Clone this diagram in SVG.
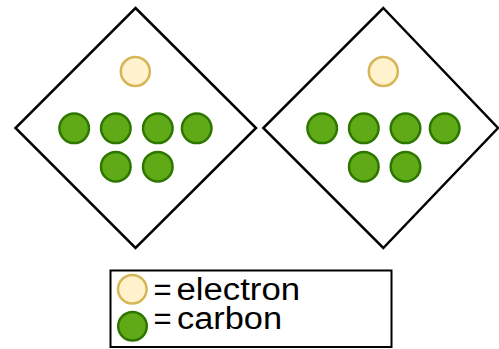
<svg xmlns="http://www.w3.org/2000/svg" width="499" height="349" viewBox="0 0 499 349">
<style>
.dia{fill:#ffffff;stroke:#000000;stroke-width:2.5}
.el{fill:#fff2cc;stroke:#d6b656;stroke-width:2.5}
.c{fill:#60a917;stroke:#2d7600;stroke-width:2.5}
.t{font-family:"Liberation Sans",Arial,sans-serif;font-size:31px;fill:#000000}
</style>
<rect width="499" height="349" fill="#ffffff"/>
<g id="molecule-left">
<polygon class="dia" points="135.5,8 256,128 135.5,248 15.5,128"/>
<circle class="el" cx="135.3" cy="71.5" r="14.5"/>
<circle class="c" cx="74.2" cy="128.3" r="14.8"/>
<circle class="c" cx="115.8" cy="128.3" r="14.8"/>
<circle class="c" cx="157.8" cy="128.3" r="14.8"/>
<circle class="c" cx="196.7" cy="128.3" r="14.8"/>
<circle class="c" cx="115.8" cy="166.7" r="14.8"/>
<circle class="c" cx="157.8" cy="166.7" r="14.8"/>
</g>
<g id="molecule-right">
<polygon class="dia" points="383.3,8 498,128 383.3,248 263.3,128"/>
<circle class="el" cx="383.3" cy="71.5" r="14.5"/>
<circle class="c" cx="322.2" cy="128.3" r="14.8"/>
<circle class="c" cx="363.8" cy="128.3" r="14.8"/>
<circle class="c" cx="405.5" cy="128.3" r="14.8"/>
<circle class="c" cx="444.7" cy="128.3" r="14.8"/>
<circle class="c" cx="363.8" cy="166.7" r="14.8"/>
<circle class="c" cx="405.5" cy="166.7" r="14.8"/>
</g>
<g id="legend">
<rect x="110.5" y="270.5" width="281" height="76.5" fill="#ffffff" stroke="#000000" stroke-width="2"/>
<circle class="el" cx="132.3" cy="289.2" r="14.3"/>
<circle class="c" cx="132.5" cy="326.3" r="14.3"/>
<text class="t"><tspan x="153.5" y="300">=</tspan><tspan x="176.5" y="300" textLength="123.5" lengthAdjust="spacingAndGlyphs">electron</tspan><tspan x="153.5" y="329">=</tspan><tspan x="177" y="329" textLength="105" lengthAdjust="spacingAndGlyphs">carbon</tspan></text>
</g>
<g id="connectors"/>
</svg>
